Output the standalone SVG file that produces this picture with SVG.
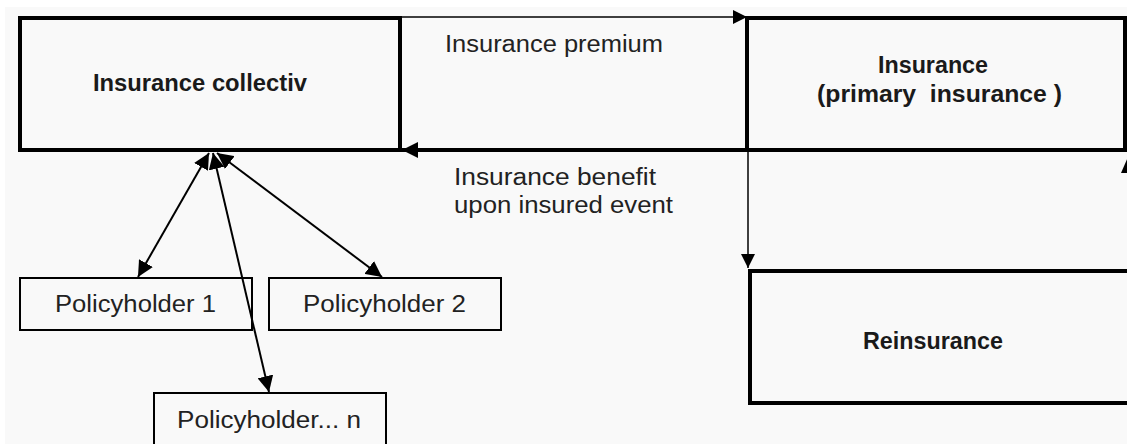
<svg xmlns="http://www.w3.org/2000/svg" width="1127" height="444" viewBox="0 0 1127 444">
  <style>
    .box { fill: none; stroke: #000; }
    .heavy { stroke-width: 4; }
    .light { stroke-width: 2; }
    .title { font-family: "Liberation Sans", Arial, sans-serif; font-weight: bold; font-size: 23px; fill: #1a1a1a; }
    .label { font-family: "Liberation Sans", Arial, sans-serif; font-size: 23px; fill: #222; }
    .link { stroke: #000; fill: none; }
  </style>
  <defs>
    <marker id="head" viewBox="0 0 14 14" refX="14" refY="7" markerWidth="14" markerHeight="14" markerUnits="userSpaceOnUse" orient="auto-start-reverse">
      <path d="M0,0 L14,7 L0,14 Z" fill="#000"/>
    </marker>
    <marker id="headMid" viewBox="0 0 16 16" refX="16" refY="8" markerWidth="16" markerHeight="16" markerUnits="userSpaceOnUse" orient="auto-start-reverse">
      <path d="M0,0 L16,8 L0,16 Z" fill="#000"/>
    </marker>
    <marker id="headBig" viewBox="0 0 16 16" refX="16" refY="8" markerWidth="16" markerHeight="16" markerUnits="userSpaceOnUse" orient="auto">
      <path d="M0,0 L16,8 L0,16 Z" fill="#000"/>
    </marker>
  </defs>

  <!-- page -->
  <rect x="0" y="0" width="1127" height="444" fill="#ffffff"/>
  <rect x="5" y="7" width="1122" height="437" fill="#f9f9f9"/>

  <!-- connectors -->
  <g id="connectors">
    <line class="link" x1="402" y1="17" x2="747" y2="17" stroke-width="1.5" marker-end="url(#head)"/>
    <line class="link" x1="745" y1="150" x2="402" y2="150" stroke-width="4" marker-end="url(#headBig)"/>
    <line class="link" x1="748" y1="152" x2="748" y2="268" stroke-width="1.5" marker-end="url(#head)"/>
    <polygon points="1121,173 1128,157 1135,173" fill="#000"/>
    <line class="link" x1="209" y1="153" x2="138" y2="277" stroke-width="2" marker-start="url(#headMid)" marker-end="url(#headMid)"/>
    <line class="link" x1="213" y1="153" x2="269" y2="392" stroke-width="2" marker-start="url(#headMid)" marker-end="url(#headMid)"/>
    <line class="link" x1="217" y1="153" x2="382" y2="277" stroke-width="2" marker-start="url(#headMid)" marker-end="url(#headMid)"/>
  </g>

  <g id="insurance-collectiv">
    <rect class="box heavy" x="20" y="18" width="380" height="132"/>
    <text class="title" x="93" y="91" textLength="214" lengthAdjust="spacingAndGlyphs">Insurance collectiv</text>
  </g>

  <g id="label-premium">
    <text class="label" x="445" y="52" textLength="218" lengthAdjust="spacingAndGlyphs">Insurance premium</text>
  </g>

  <g id="label-benefit">
    <text class="label" x="454" y="185" textLength="202" lengthAdjust="spacingAndGlyphs">Insurance benefit</text>
    <text class="label" x="454" y="213" textLength="219" lengthAdjust="spacingAndGlyphs">upon insured event</text>
  </g>

  <g id="insurance-primary">
    <rect class="box heavy" x="747" y="18" width="378" height="132"/>
    <text class="title" x="878" y="73" textLength="110" lengthAdjust="spacingAndGlyphs">Insurance</text>
    <text class="title" x="817" y="102" textLength="245" lengthAdjust="spacingAndGlyphs" xml:space="preserve">(primary  insurance )</text>
  </g>

  <g id="reinsurance">
    <rect class="box heavy" x="750" y="271" width="390" height="132"/>
    <text class="title" x="863" y="349" textLength="140" lengthAdjust="spacingAndGlyphs">Reinsurance</text>
  </g>

  <g id="policyholder-1">
    <rect class="box light" x="20" y="278" width="232" height="52"/>
    <text class="label" x="55" y="312" textLength="161" lengthAdjust="spacingAndGlyphs">Policyholder 1</text>
  </g>

  <g id="policyholder-2">
    <rect class="box light" x="269" y="278" width="232" height="52"/>
    <text class="label" x="303" y="312" textLength="163" lengthAdjust="spacingAndGlyphs">Policyholder 2</text>
  </g>

  <g id="policyholder-n">
    <rect class="box light" x="154" y="393" width="232" height="60"/>
    <text class="label" x="177" y="428" textLength="184" lengthAdjust="spacingAndGlyphs">Policyholder... n</text>
  </g>
</svg>
